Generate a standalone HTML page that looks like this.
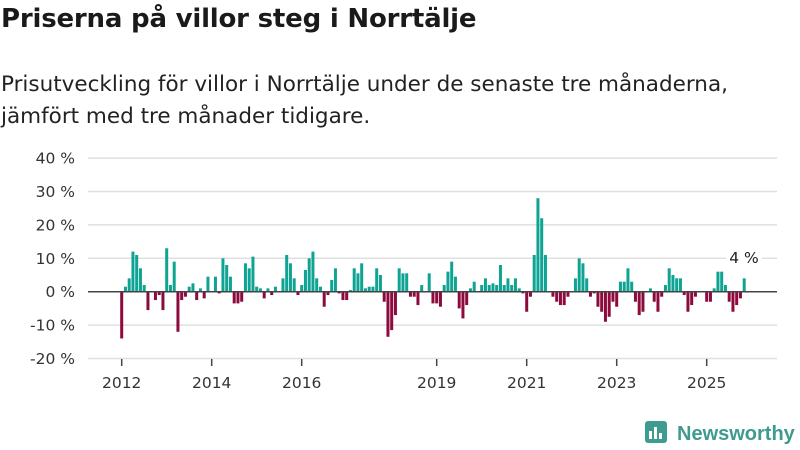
<!DOCTYPE html>
<html><head><meta charset="utf-8"><style>
body{margin:0;background:#fff;width:800px;height:450px;overflow:hidden;font-family:"DejaVu Sans","Liberation Sans",sans-serif;color:#222}
#t{position:absolute;left:1px;top:4px;font-size:26px;font-weight:bold;margin:0;color:#1a1a1a;letter-spacing:-0.2px}
#s{position:absolute;left:1px;top:69px;font-size:21.5px;line-height:32px;margin:0;color:#222;letter-spacing:0px}
svg{position:absolute;left:0;top:0}
</style></head><body>
<h1 id="t">Priserna på villor steg i Norrtälje</h1>
<p id="s">Prisutveckling för villor i Norrtälje under de senaste tre månaderna,<br>jämfört med tre månader tidigare.</p>
<svg id="c" width="800" height="450" font-family="DejaVu Sans, Liberation Sans, sans-serif"></svg>
<script>
const values=[-14,1.5,4,12,11,7,2,-5.5,0,-2.5,-1,-5.5,13,2,9,-12,-2.5,-1.5,1.5,2.5,-2.5,1,-2,4.5,0,4.5,-0.5,10,8,4.5,-3.5,-3.5,-3,8.5,7,10.5,1.5,1,-2,1,-1,1.5,0,4,11,8.5,4,-1,2,6.5,10,12,4,
1.5,-4.5,-1,3.5,7,-0.5,-2.5,-2.5,0.5,7,5.5,8.5,1,1.5,1.5,7,5,-3,-13.5,-11.5,-7,7,5.5,5.5,-1.5,-1.5,-4,2,0,5.5,-3.5,-3.5,-4.5,2,6,9,4.5,-5,-8,-4,1,3,0,2,4,2,2.5,2,8,2,4,2,4,1,-0.5,-6,-1.5,11,28,22,11,
0,-1.5,-3,-4,-4,-1.5,0,4,10,8.5,4,-1.5,-0.5,-4.5,-6,-9,-7.5,-3,-4.5,3,3,7,3,-3,-7,-6,0,1,-3,-6,-1.5,2,7,5,4,4,-1,-6,-4,-1.5,0,0,-3,-3,1,6,6,2,-3,-6,-4,-2,4];
const yTicks=[40,30,20,10,0,-10,-20];
const xTickYears=[2012,2014,2016,2019,2021,2023,2025];
const startYear=2012;
const lastLabel="4 %";
const svg=document.getElementById('c');const NS='http://www.w3.org/2000/svg';
function y(v){return 291.7-v*3.34;}
function x(i){return 121.7+i*3.75;}
function mk(tag,at,txt){const e=document.createElementNS(NS,tag);for(const k in at)e.setAttribute(k,at[k]);if(txt!==undefined)e.textContent=txt;svg.appendChild(e);return e;}
yTicks.forEach(t=>{
 const g=mk('line',{x1:88,x2:777,y1:y(t),y2:y(t),stroke:'#e0e0e0','stroke-width':1.5});
 
 
 const l=mk('text',{x:75,y:y(t)+5.5,'text-anchor':'end','font-size':15.5,fill:'#333'},t+' %');
 
 
});
values.forEach((v,i)=>{
 const b=mk('rect',{x:x(i)-1.5,width:3,y:v>=0?y(v):y(0),height:Math.abs(y(v)-y(0)),fill:v>=0?'#0fa394':'#8c0a3c'});
 
 
});
const z=mk('line',{x1:88,x2:777,y1:y(0),y2:y(0),stroke:'#444','stroke-width':1.5});


xTickYears.forEach(yr=>{
 const xx=x((yr-startYear)*12);
 const tk=mk('line',{x1:xx,x2:xx,y1:359,y2:366,stroke:'#444','stroke-width':1.5});
 
 
 const l=mk('text',{x:xx,y:388,'text-anchor':'middle','font-size':15.5,fill:'#333'},String(yr));
 
 
});
const bg=mk('rect',{x:726,y:248,width:36,height:20,fill:'#fff'});


const lv=mk('text',{x:744,y:263,'text-anchor':'middle','font-size':15.5,fill:'#222'},lastLabel);


</script>
<svg width="800" height="450" style="pointer-events:none">
 <rect x="645" y="421" width="22" height="22" rx="3" fill="#3f9b8f"/>
 <rect x="649" y="431" width="3" height="8" fill="#fff"/><rect x="654" y="427" width="3" height="12" fill="#fff"/><rect x="659" y="433" width="3" height="6" fill="#fff"/>
 <text x="677" y="440" font-size="20" font-weight="bold" fill="#3f9b8f" font-family="Liberation Sans,sans-serif">Newsworthy</text>
</svg>
</body></html>
